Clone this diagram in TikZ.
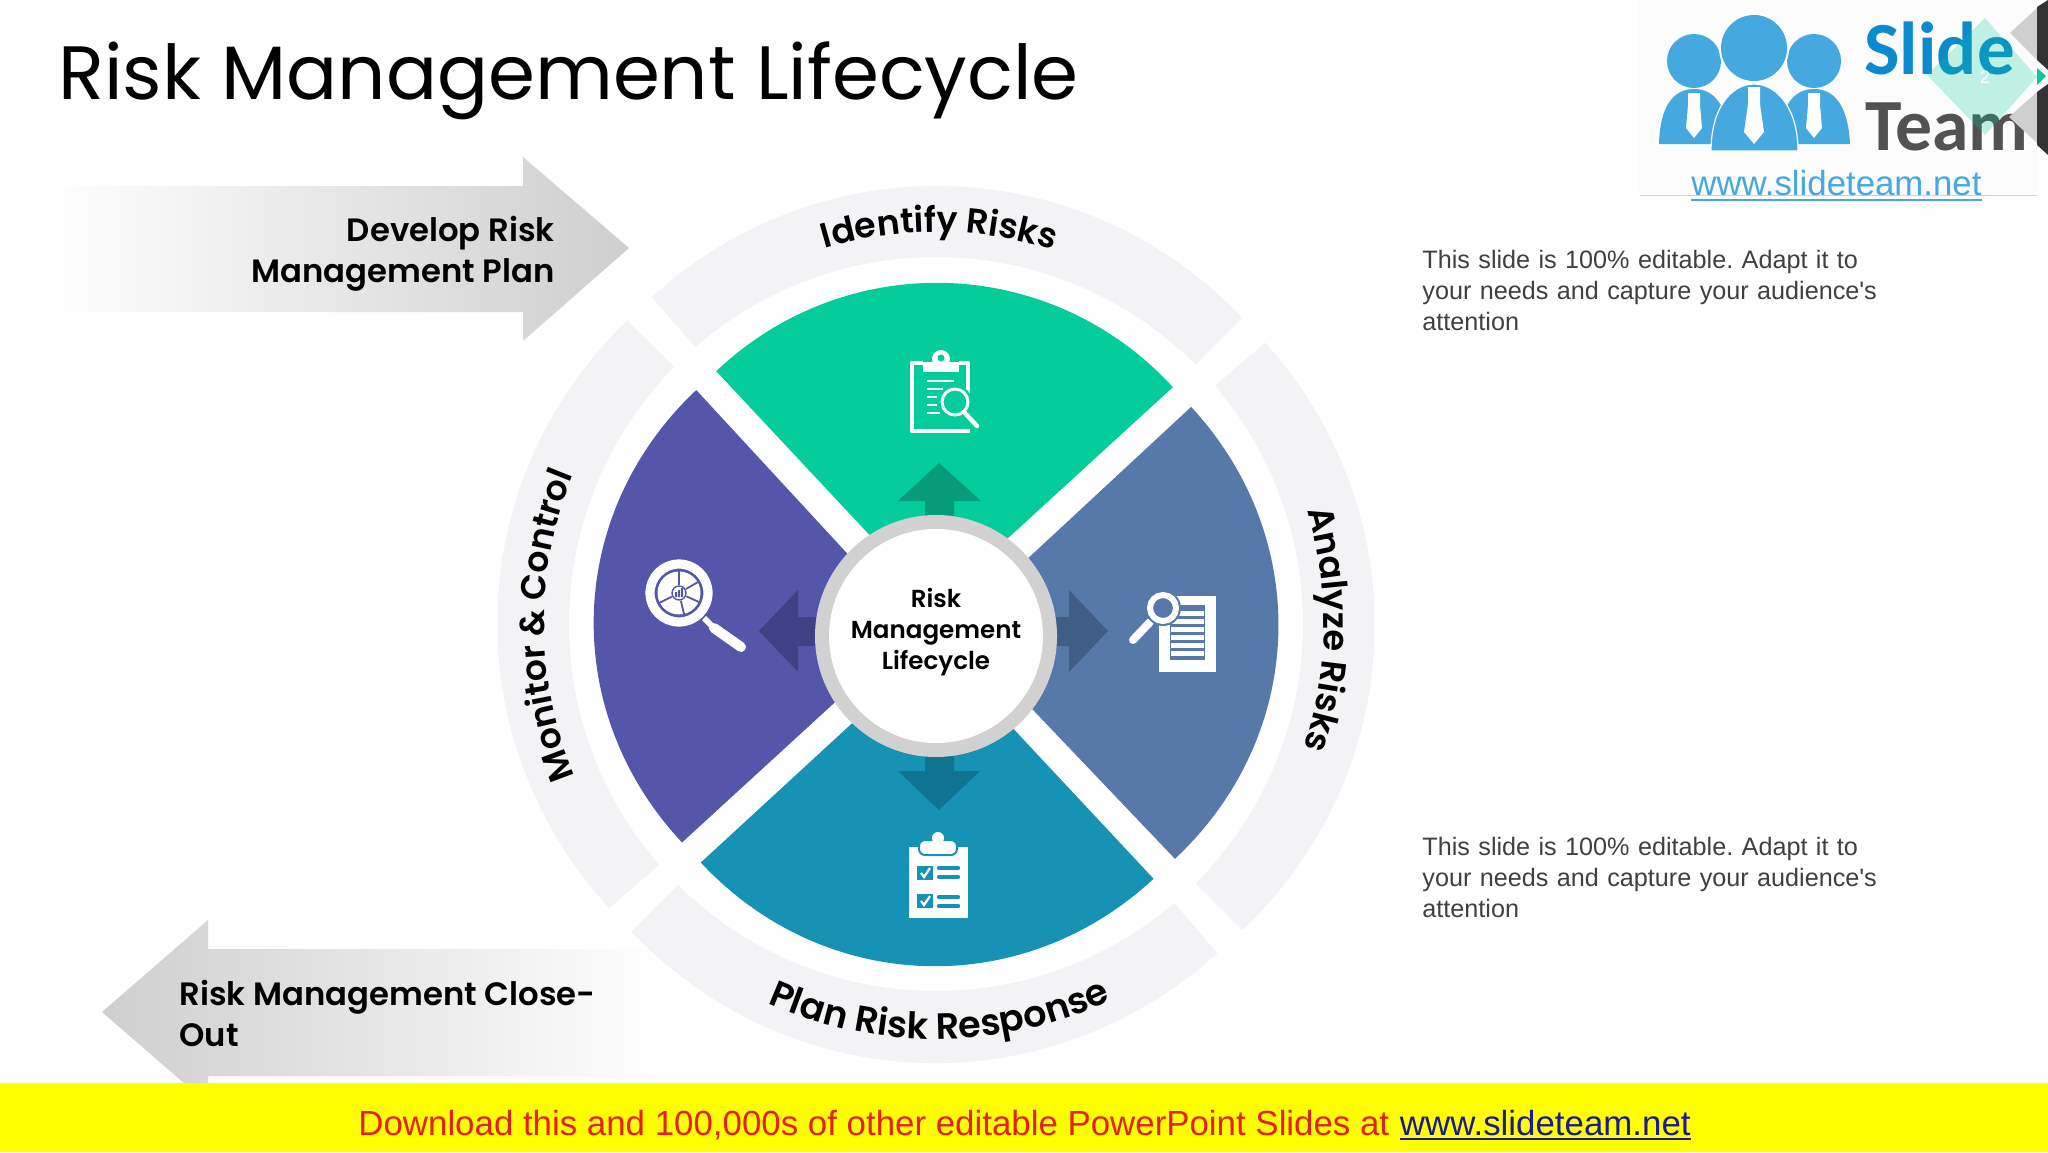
\documentclass[tikz,border=0pt]{standalone}
\usepackage{fontspec}
\usetikzlibrary{decorations.text}
\setmainfont{Liberation Sans}
\newfontfamily\bodyf{Liberation Sans}
\newfontfamily\gothr{Poppins}
\newfontfamily\gothb{Poppins SemiBold}
\newfontfamily\logof{Carlito Bold}
\definecolor{cgreen}{HTML}{04CC9A}
\definecolor{cblue}{HTML}{5679A9}
\definecolor{cteal}{HTML}{1592B4}
\definecolor{cpurple}{HTML}{5457A9}
\definecolor{agreen}{HTML}{069C79}
\definecolor{ablue}{HTML}{405D86}
\definecolor{ateal}{HTML}{0F7391}
\definecolor{apurple}{HTML}{3E4284}
\definecolor{ringg}{HTML}{F3F3F5}
\definecolor{logob}{HTML}{45A8DE}
\definecolor{slideb}{HTML}{0B8ACD}
\definecolor{banner}{HTML}{FFFF00}
\definecolor{bannerred}{HTML}{E5201C}
\definecolor{bannerblue}{HTML}{1A1A96}
\tikzset{
  wline/.style={draw=white,line width=#1,line cap=round},
  ringlabel/.style={decorate,decoration={text along path,text align=center,text={#1}}},
  bodytext/.style={anchor=north west,align=left,text width=235pt,inner sep=0pt,text=black!75,font=\bodyf\frenchspacing\fontsize{12.6}{15.4}\selectfont},
  sidetext/.style={inner sep=0pt,font=\gothb\fontsize{16.15}{20.5}\selectfont},
  sidefade/.style={middle color=black!8,draw=none}
}
\begin{document}
\begin{tikzpicture}[x=.5pt,y=-.5pt]
\useasboundingbox (0,0) rectangle (2048,1152);
\fill[white] (0,0) rectangle (2048,1152);

% side arrows
\shade[sidefade,left color=white,right color=black!19] (48,186) -- (523,186) -- (523,157) -- (629,248) -- (523,341) -- (523,312) -- (48,312) -- cycle;
\shade[sidefade,right color=white,left color=black!19] (660,949) -- (208,949) -- (208,920) -- (102,1012) -- (208,1104) -- (208,1076) -- (660,1076) -- cycle;
\node[sidetext,align=right,anchor=east] (devplan) at (555,254) {Develop Risk\\Management Plan};
\node[sidetext,align=left,anchor=west] (closeout) at (179,1013) {Risk Management Close-\\Out};

% wheel
\begin{scope}[shift={(936,624)},y=.5pt]
  \fill[ringg] (131:433) .. controls (103.3:496) and (72.7:496) .. (45:433) -- (45:367) arc[start angle=45,end angle=131,radius=367] -- cycle;
  \fill[ringg] (40.5:433) .. controls (12.8:496) and (-17.3:496) .. (-45:433) -- (-45:367) arc[start angle=-45,end angle=40.5,radius=367] -- cycle;
  \fill[ringg] (-49.5:433) .. controls (-77.2:496) and (-107:496) .. (-134.7:433) -- (-134.7:367) arc[start angle=-134.7,end angle=-49.5,radius=367] -- cycle;
  \fill[ringg] (221:433) .. controls (193.3:496) and (163.2:496) .. (135.5:433) -- (135.5:367) arc[start angle=135.5,end angle=221,radius=367] -- cycle;
  \path[fill=cgreen] (-1,19) -- (131:335) .. controls (103.3:387) and (72.7:387) .. (45:335) -- cycle;
  \path[fill=cblue] (18,-3) -- (40.4:335) .. controls (12.7:387) and (-16.8:387) .. (-44.5:335) -- cycle;
  \path[fill=cteal] (0,-22) -- (-49.5:335) .. controls (-77.2:387) and (-106.9:387) .. (-134.6:335) -- cycle;
  \path[fill=cpurple] (-20,-4) -- (220.7:335) .. controls (193:387) and (163.4:387) .. (135.7:335) -- cycle;
  \path[ringlabel={|\gothb\fontsize{17.4}{20}\selectfont|Identify Risks}] (134.5:392) arc[start angle=134.5,end angle=44.5,radius=392];
  \path[ringlabel={|\gothb\fontsize{17.6}{20}\selectfont|Analyze Risks}] (43.7:388) arc[start angle=43.7,end angle=-45.3,radius=388];
  \path[ringlabel={|\gothb\fontsize{18.3}{20}\selectfont|Plan Risk Response}] (-133.5:415) arc[start angle=-133.5,end angle=-45.5,radius=415];
  \path[ringlabel={|\gothb\fontsize{17.3}{20}\selectfont|Monitor {\&} Control}] (225:392) arc[start angle=225,end angle=135.4,radius=392];
\end{scope}

% arrows out of the hub
\fill[agreen] (939,463) -- (981,501) -- (954,501) -- (954,560) -- (925,560) -- (925,501) -- (898,501) -- cycle;
\fill[ablue] (1108,631) -- (1069,590) -- (1069,617) -- (1000,617) -- (1000,646) -- (1069,646) -- (1069,672) -- cycle;
\fill[ateal] (939,810) -- (980,771) -- (954,771) -- (954,700) -- (925,700) -- (925,771) -- (898,771) -- cycle;
\fill[apurple] (759,631) -- (798,590) -- (798,617) -- (870,617) -- (870,646) -- (798,646) -- (798,672) -- cycle;

% hub
\node[circle,fill=black!18,draw=none,minimum size=121pt,inner sep=0pt] (hubring) at (936,636) {};
\node[circle,fill=white,draw=none,minimum size=107pt,inner sep=0pt] (hub) at (936,636) {};
\node[inner sep=0pt,align=center,font=\gothb\fontsize{12.3}{15.3}\selectfont] (hubtext) at (936,632) {Risk\\Management\\Lifecycle};

% icon: clipboard and magnifier
\draw[white,line width=2.2pt,line join=round] (959,363) -- (968,363) -- (968,400) (970,431) -- (912,431) -- (912,363) -- (923,363);
\fill[white] (923,362) rectangle (959,372);
\fill[white] (941,359) circle[radius=9];
\fill[cgreen] (941,358) circle[radius=3.5];
\draw[white,line width=1.2pt] (927,381) -- (954,381) (927,389) -- (943,389) (927,397) -- (937,397) (927,405) -- (937,405) (927,413) -- (940,413);
\fill[cgreen] (955,402) circle[radius=17];
\draw[white,line width=1.5pt] (955,402) circle[radius=13];
\draw[wline=2.2pt] (964,412) -- (977,426);

% icon: checklist
\fill[white] (909,847) rectangle (968,918);
\draw[cteal,line width=1pt,fill=white,rounded corners=3pt] (919,840) rectangle (957,855);
\fill[white] (938,838) circle[radius=6];
\foreach \yy in {866,894} {
  \fill[cteal] (917,\yy) rectangle (933,\yy+14);
  \draw[white,line width=1.1pt] (921,\yy+7) -- (924,\yy+11) -- (930,\yy+2);
}
\draw[cteal,line width=2.2pt,line cap=round] (939,868) -- (958,868) (939,877) -- (958,877) (939,897) -- (958,897) (939,906) -- (958,906);

% icon: document and magnifier
\fill[white] (1159,596) rectangle (1216,672);
\fill[cblue] (1170,605) rectangle (1205,660);
\foreach \yy in {611,619,627,635,643,651} { \fill[white] (1171,\yy) rectangle (1204,\yy+5); }
\draw[wline=4pt] (1150,622) -- (1133,640);
\fill[cblue] (1163,608) circle[radius=18];
\draw[white,line width=3pt] (1163,608) circle[radius=13];

% icon: chart magnifier
\draw[white,line width=4.6pt] (679,593) circle[radius=29];
\fill[white] (679,593) circle[radius=21.5];
\draw[cpurple,line width=.9pt] (679,593) -- (679,571) (679,593) -- (698,582) (679,593) -- (699,602) (679,593) -- (684,614) (679,593) -- (659,603);
\fill[white] (679,593) circle[radius=8];
\draw[cpurple,line width=.7pt] (679,593) circle[radius=7];
\fill[cpurple] (675,592) rectangle (677,597) (678,590) rectangle (680,597) (681,588) rectangle (683,597);
\draw[white,line width=3pt] (704,618) -- (716,630);
\draw[wline=5pt] (714,628) -- (741,647);

% right texts
\node[bodytext] (note1) at (1422,250) {This slide is 100\% editable. Adapt it to your needs and capture your audience's attention};
\node[bodytext] (note2) at (1422,837) {This slide is 100\% editable. Adapt it to your needs and capture your audience's attention};

% title
\node[anchor=base west,inner sep=0pt,font=\gothr\fontsize{37.8}{40}\selectfont,text=black] (title) at (58,99) {Risk Management Lifecycle};

% logo
\fill[black!1] (1638,0) rectangle (2037,195);
\draw[black!18,line width=.5pt] (1640,195) -- (2037,195);
\foreach \cx/\sc in {1694/1,1814/1} {
  \fill[logob] (\cx-35,144) .. controls (\cx-34,105) and (\cx-20,89) .. (\cx,89) .. controls (\cx+20,89) and (\cx+34,105) .. (\cx+36,144) -- cycle;
  \fill[logob] (\cx,61) circle[radius=27];
  \fill[white] (\cx-6,93) -- (\cx+6,93) -- (\cx+6,105) -- (\cx+8,128) -- (\cx,138) -- (\cx-8,128) -- (\cx-6,105) -- cycle;
}
\draw[white,line width=1pt] (1754,48) circle[radius=34];
\fill[logob] (1754,48) circle[radius=33];
\fill[logob,draw=white,line width=.6pt] (1711,151) .. controls (1711,110) and (1730,84) .. (1754,84) .. controls (1778,84) and (1798,110) .. (1798,151) -- cycle;
\fill[white] (1748,87) -- (1760,87) -- (1760,104) -- (1764,132) -- (1754,144) -- (1744,132) -- (1748,104) -- cycle;
\node[anchor=base west,inner sep=0pt,text=slideb,font=\logof\fontsize{37.5}{40}\selectfont] (slide) at (1864,74) {Slide};
\node[anchor=base west,inner sep=0pt,text=black!68,font=\logof\fontsize{36.8}{40}\selectfont] (team) at (1865,150) {Team};
\node[anchor=base west,inner sep=0pt,text=logob,font=\fontsize{17.4}{18}\selectfont] (url) at (1691,195) {www.slideteam.net};
\draw[logob,line width=1.2pt] (url.base west)++(0,5) -- ++(291,0);

% slide-number badge
\fill[cgreen,opacity=.24] (1985,18) -- (2037,77) -- (1985,135) -- (1927,75) -- cycle;
\fill[black!19] (2010,33) -- (2037,8) -- (2037,60) -- cycle;
\fill[black!19] (2009,117) -- (2037,92) -- (2037,143) -- cycle;
\fill[black!80] (2037,7) -- (2048,0) -- (2048,70) -- (2037,60) -- cycle;
\fill[black!80] (2037,92) -- (2048,84) -- (2048,155) -- (2037,145) -- cycle;
\fill[cgreen] (2037,68) -- (2046,76) -- (2037,85) -- cycle;
\node[inner sep=0pt,text=white,font=\fontsize{9}{10}\selectfont] (pageno) at (1985,77) {2};

% banner
\fill[banner] (0,1083) rectangle (2048,1152);
\node[anchor=base west,inner sep=0pt,font=\fontsize{17.43}{20}\selectfont,text=bannerred] (download) at (358,1135) {Download this and 100,000s of other editable PowerPoint Slides at};
\node[anchor=base west,inner sep=0pt,xshift=4.9pt,font=\fontsize{17.43}{20}\selectfont,text=bannerblue] (link) at (download.base east) {www.slideteam.net};
\draw[bannerblue,line width=.7pt] ([yshift=-2pt]link.base west) -- ([yshift=-2pt]link.base east);
\end{tikzpicture}
\end{document}
